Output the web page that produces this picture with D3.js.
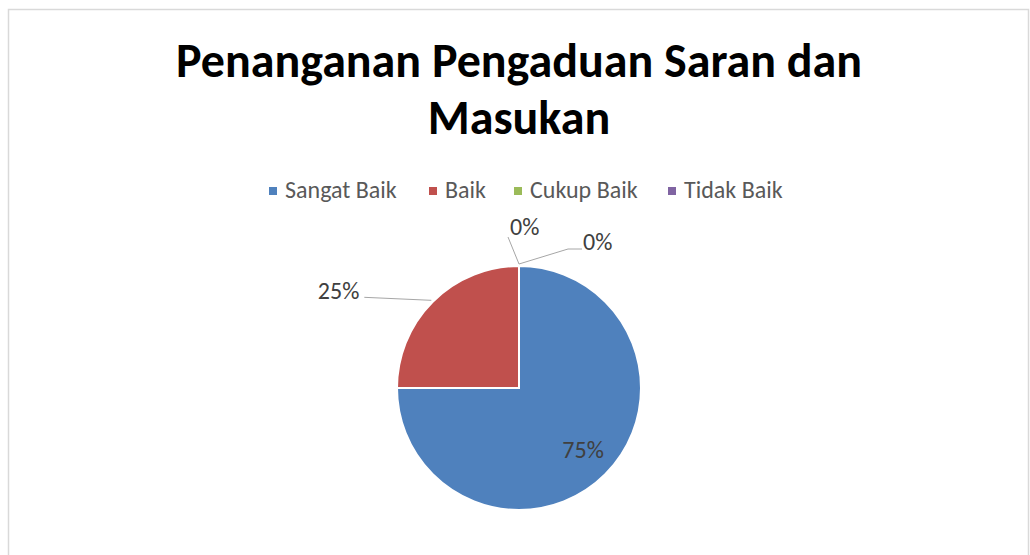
<!DOCTYPE html>
<html>
<head>
<meta charset="utf-8">
<script src="https://cdn.jsdelivr.net/npm/d3@7"></script>
<style>
  body { margin: 0; background: #fff; }
  svg { display: block; }
</style>
</head>
<body>
<div id="chart"></div>
<script>
// chart data
var categories = ["Sangat Baik", "Baik", "Cukup Baik", "Tidak Baik"];
var values = [75, 25, 0, 0];
var colors = ["#4F81BD", "#C0504D", "#9BBB59", "#8064A2"];

var w = 1030, h = 555;
var cx = 519, cy = 388, r = 122;
var font = "Calibri, Carlito, 'Open Sans', sans-serif";

var svg = d3.select("#chart").append("svg")
    .attr("width", w)
    .attr("height", h);

// chart frame
svg.append("rect")
    .attr("x", 8.5).attr("y", 9.5)
    .attr("width", 1020).attr("height", 560)
    .attr("fill", "#fff")
    .attr("stroke", "#d9d9d9")
    .attr("stroke-width", 1.5);

// title
var title = svg.append("text")
    .attr("text-anchor", "middle")
    .style("font-family", font)
    .style("font-weight", "bold")
    .style("font-size", "48px")
    .attr("fill", "#000");
title.append("tspan").attr("x", cx).attr("y", 77).text("Penanganan Pengaduan Saran dan");
title.append("tspan").attr("x", cx).attr("y", 134).text("Masukan");

// legend
var legendX = [269, 429, 514, 668];
var legend = svg.append("g");
var items = legend.selectAll("g")
    .data(categories)
    .enter().append("g")
    .attr("transform", function(d, i) { return "translate(" + legendX[i] + ",191)"; });
items.append("rect")
    .attr("x", 0).attr("y", -4)
    .attr("width", 8).attr("height", 8)
    .attr("fill", function(d, i) { return colors[i]; });
items.append("text")
    .attr("x", 16).attr("y", 7)
    .style("font-family", font)
    .style("font-size", "24px")
    .attr("fill", "#595959")
    .text(function(d) { return d; });

// pie
var pie = d3.pie().sort(null).value(function(d) { return d; });
var arcs = pie(values);
var arc = d3.arc().innerRadius(0).outerRadius(r);

var g = svg.append("g").attr("transform", "translate(" + cx + "," + cy + ")");
g.selectAll("path")
    .data(arcs)
    .enter().append("path")
    .attr("d", arc)
    .attr("fill", function(d, i) { return colors[i]; })
    .attr("stroke", "#fff")
    .attr("stroke-width", 2);

// labels: inside for big slice, outside with leader lines for the rest
var total = d3.sum(values);
function pct(v) { return Math.round(v / total * 100) + "%"; }

// per-label placement tweaks, relative to the slice edge point
var labelCfg = [
  { inside: true },
  { line: [[-67, -3]], text: [-72, -1], anchor: "end" },
  { line: [[-11, -27]], text: [-9, -29], anchor: "start" },
  { line: [[49, -15], [63, -15]], text: [64, -14], anchor: "start" }
];

arcs.forEach(function(d, i) {
  var cfg = labelCfg[i];
  var mid = (d.startAngle + d.endAngle) / 2;
  if (cfg.inside) {
    var rr = r * 0.72;
    g.append("text")
      .attr("x", Math.sin(mid) * rr + 2)
      .attr("y", -Math.cos(mid) * rr + 8)
      .attr("text-anchor", "middle")
      .style("font-family", font).style("font-size", "24px")
      .attr("fill", "#404040")
      .text(pct(d.value));
    return;
  }
  var ex = Math.sin(mid) * (r + 2), ey = -Math.cos(mid) * (r + 2);
  var pts = [[ex, ey]].concat(cfg.line.map(function(p) { return [ex + p[0], ey + p[1]]; }));
  g.append("path")
    .attr("d", d3.line()(pts))
    .attr("fill", "none")
    .attr("stroke", "#a6a6a6")
    .attr("stroke-width", 1);
  g.append("text")
    .attr("x", ex + cfg.text[0])
    .attr("y", ey + cfg.text[1])
    .attr("text-anchor", cfg.anchor)
    .style("font-family", font).style("font-size", "24px")
    .attr("fill", "#404040")
    .text(pct(d.value));
});
</script>
</body>
</html>
